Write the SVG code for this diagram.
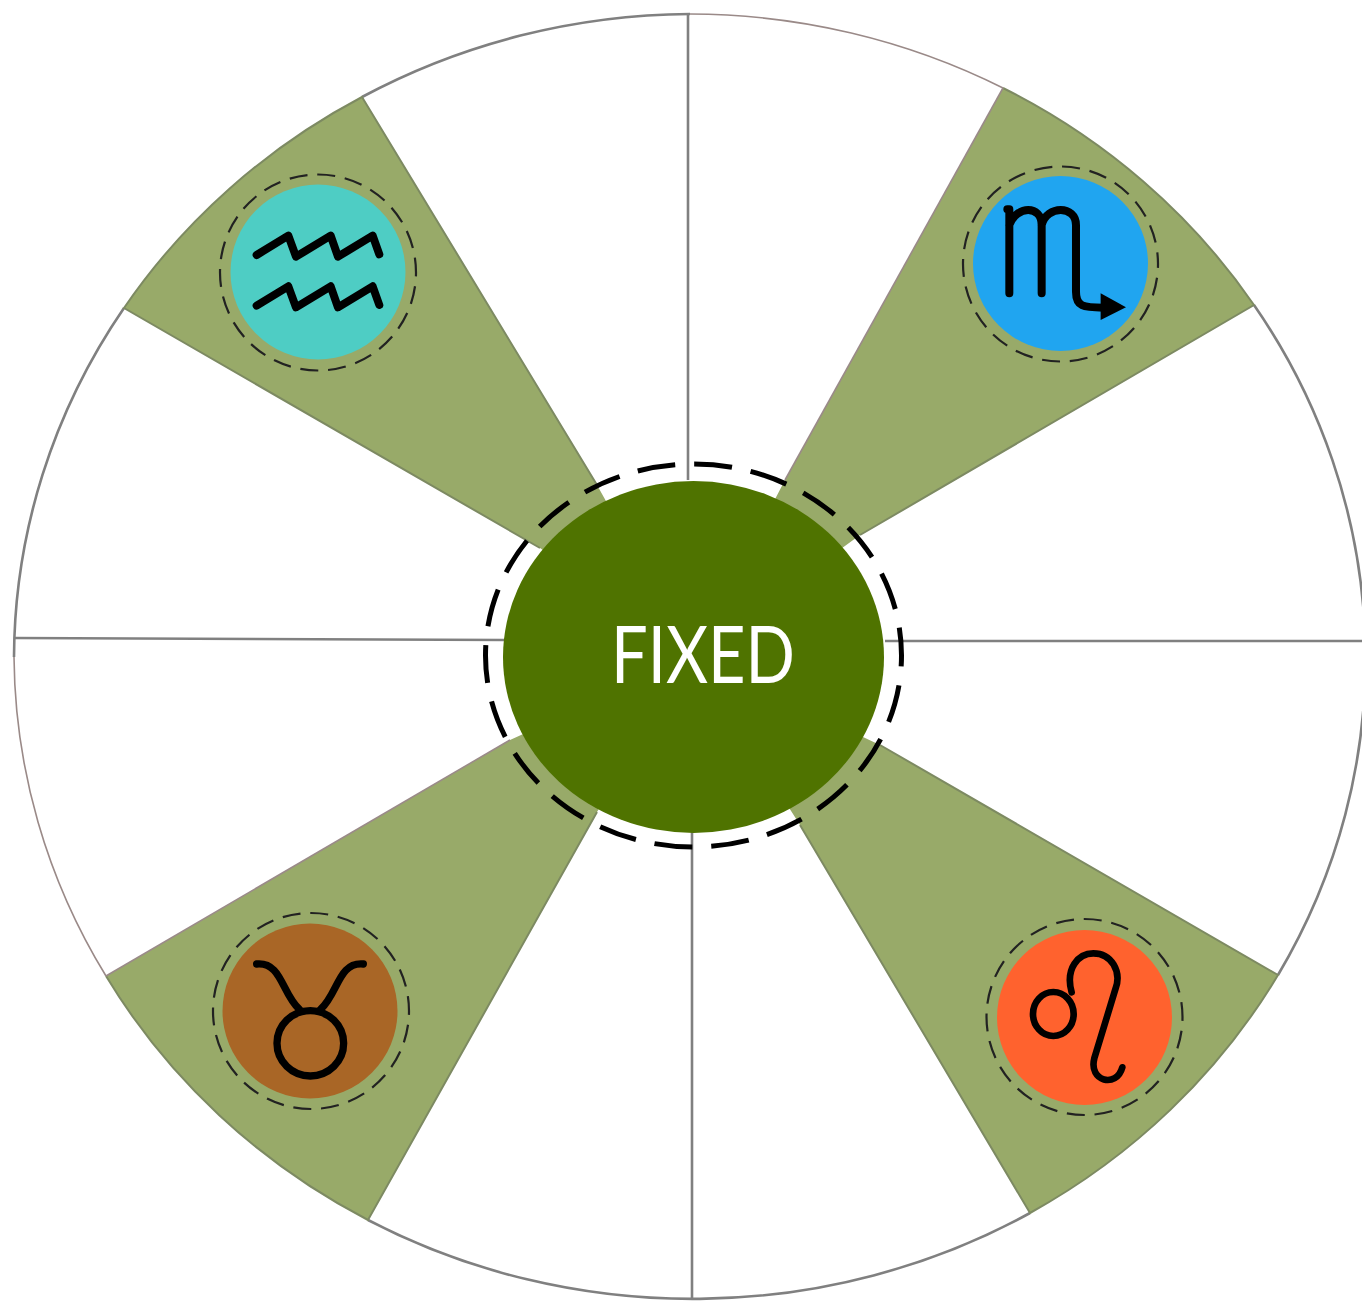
<svg xmlns="http://www.w3.org/2000/svg" width="1362" height="1301" viewBox="0 0 1362 1301">
<style>
.rim{fill:none;stroke:#808080;stroke-width:2.6}
.thin{fill:none;stroke:#9a8a88;stroke-width:1.6}
.wedge{fill:#98aa69}
.wedgeline{fill:none;stroke:#7d8a62;stroke-width:2}
.ring{fill:none;stroke:#222;stroke-width:2.2;stroke-dasharray:18 9.9;stroke-dashoffset:14}
.glyph{fill:none;stroke:#000;stroke-width:8;stroke-linecap:round;stroke-linejoin:round}
</style>
<rect width="1362" height="1301" fill="#fff"/>
<g id="wheel">
<ellipse cx="690" cy="657" rx="676" ry="643" fill="#fff"/>
<path class="thin" d="M690 14A676 643 0 0 1 1003 88"/>
<path class="rim" d="M1254 305A676 643 0 0 1 1278 975"/>
<path class="rim" d="M1030 1213A676 643 0 0 1 368 1220"/>
<path class="thin" d="M106 976A676 643 0 0 1 14 657"/>
<path class="rim" d="M14 657A676 643 0 0 1 124 308"/>
<path class="rim" d="M362 97A676 643 0 0 1 690 14"/>
</g>
<g id="connectors">
<path class="rim" d="M688 14V480"/>
<path class="rim" d="M692 830V1300"/>
<path class="rim" d="M14 638L505 640"/>
<path class="rim" d="M885 641H1362"/>
</g>
<g id="wedge-aquarius">
<path class="wedge" d="M362 97A676 643 0 0 0 124 308L540 548L693 657L597 485Z"/>
<path class="wedgeline" d="M597 485L362 97A676 643 0 0 0 124 308L540 548"/>
</g>
<g id="wedge-scorpio">
<path class="wedge" d="M1003 88A676 643 0 0 1 1254 305L860 535L693 657L785 480Z"/>
<path class="wedgeline" d="M1003 88A676 643 0 0 1 1254 305L860 535"/>
<path class="thin" d="M785 480L1003 88"/>
</g>
<g id="wedge-leo">
<path class="wedge" d="M1278 975A676 643 0 0 1 1030 1213L800 825L693 657L880 745Z"/>
<path class="wedgeline" d="M880 745L1278 975A676 643 0 0 1 1030 1213L800 825"/>
</g>
<g id="wedge-taurus">
<path class="wedge" d="M106 976A676 643 0 0 0 368 1220L597 812L693 657L510 740Z"/>
<path class="wedgeline" d="M106 976A676 643 0 0 0 368 1220L597 812"/>
<path class="thin" d="M510 740L106 976"/>
</g>
<g id="center">
<ellipse cx="693.5" cy="657" rx="190.5" ry="176" fill="#4f7300"/>
<ellipse cx="693.5" cy="655.5" rx="208" ry="191.5" fill="none" stroke="#000" stroke-width="5" stroke-dasharray="38 19" stroke-dashoffset="27"/>
<text x="611" y="683" font-family="Lato,'Liberation Sans',sans-serif" font-weight="400" font-size="79" fill="#fff" textLength="184" lengthAdjust="spacingAndGlyphs">FIXED</text>
</g>
<g id="aquarius">
<circle cx="318" cy="272" r="87.5" fill="#4ecdc4"/>
<circle class="ring" cx="318" cy="272.5" r="98"/>
<g transform="translate(210 165) scale(.3333)"><path class="glyph" style="stroke-width:24" d="M140 270L235 212L258 275L362 212L384 275L488 212L508 268"/><path class="glyph" style="stroke-width:24" d="M140 422L235 364L258 427L362 364L384 427L488 364L508 420"/></g>
</g>
<g id="scorpio">
<circle cx="1060.5" cy="263.5" r="87.5" fill="#20a5f0"/>
<circle class="ring" cx="1060.5" cy="264" r="97.5"/>
<g transform="translate(950 150) scale(.3333)"><path class="glyph" style="stroke-width:24" d="M172 178H178V430M178 225C200 165 275 165 275 225V430M275 225C290 165 378 165 378 225V425C378 470 400 473 460 473"/><path d="M452 430L528 472L452 510Z" fill="#000"/></g>
</g>
<g id="taurus">
<circle cx="310" cy="1011" r="87.5" fill="#a96626"/>
<circle class="ring" cx="311" cy="1011" r="98"/>
<g transform="translate(200 900) scale(.3333)"><path class="glyph" style="stroke-width:22" d="M170 192C245 185 245 280 298 328M490 192C415 185 415 280 362 328"/><ellipse class="glyph" style="stroke-width:22" cx="331" cy="430" rx="100" ry="98"/></g>
</g>
<g id="leo">
<circle cx="1084.5" cy="1017.5" r="87.5" fill="#ff622e"/>
<circle class="ring" cx="1084.5" cy="1017" r="98"/>
<g transform="translate(975 905) scale(.3333)"><ellipse class="glyph" style="stroke-width:20" cx="235" cy="327" rx="61" ry="66"/><path class="glyph" style="stroke-width:20" d="M290 262C270 190 310 145 355 145C410 145 440 200 422 250L358 460C340 530 425 550 442 487"/></g>
</g>
</svg>
